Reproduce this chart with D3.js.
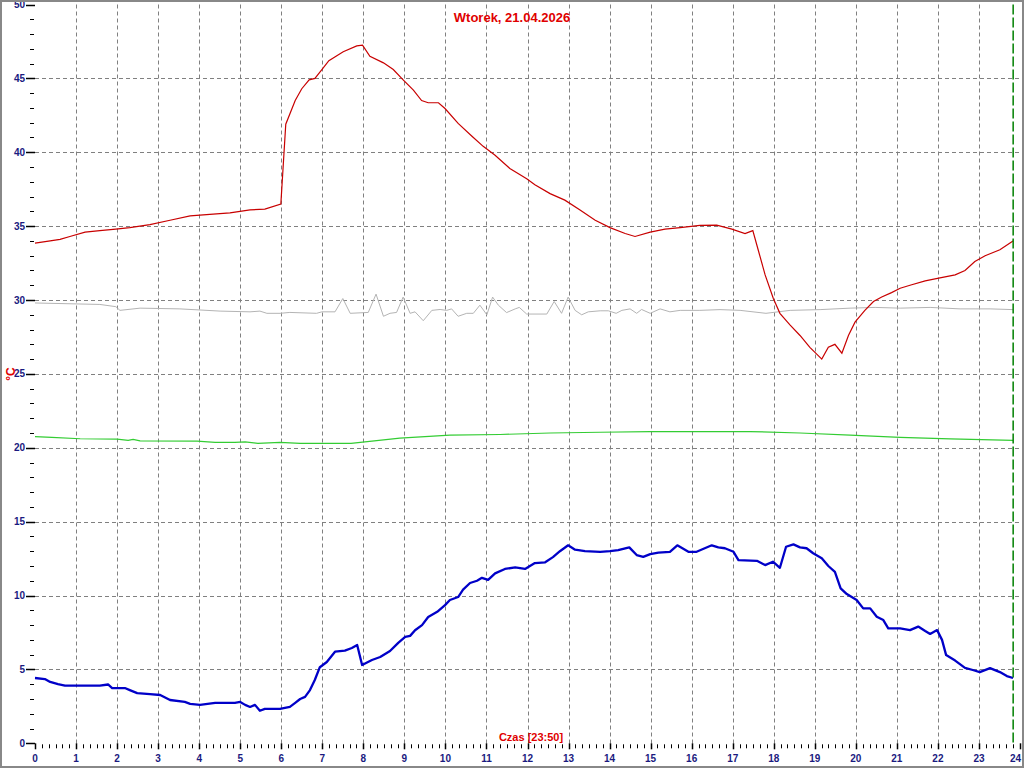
<!DOCTYPE html>
<html><head><meta charset="utf-8">
<script src="https://cdn.jsdelivr.net/npm/d3@7"></script>
<style>html,body{margin:0;padding:0;background:#fff;overflow:hidden}svg{display:block}</style>
</head><body>
<svg id="c" width="1024" height="768"></svg>
<script>
const title = "Wtorek, 21.04.2026";
const xTitle = "Czas [23:50]";
const yTitle = "°C";
const xTicks = d3.range(0, 25);
const yTicks = d3.range(0, 51, 5);
const nowHour = 23 + 50/60;

// [hour, value]
const red = [[0,33.85],[0.37,34.0],[0.61,34.1],[0.85,34.3],[1.22,34.6],[1.58,34.7],[1.97,34.8],[2.31,34.9],[2.80,35.1],[3.29,35.4],[3.78,35.7],[4.26,35.8],[4.75,35.9],[5.24,36.1],[5.60,36.15],[5.99,36.5],[6.11,41.9],[6.34,43.5],[6.50,44.3],[6.68,44.9],[6.82,45.0],[6.99,45.6],[7.16,46.2],[7.51,46.8],[7.84,47.2],[7.98,47.25],[8.16,46.5],[8.49,46.05],[8.73,45.6],[8.97,44.9],[9.22,44.2],[9.42,43.5],[9.58,43.35],[9.83,43.35],[9.99,42.96],[10.31,41.95],[10.64,41.1],[10.92,40.4],[11.21,39.8],[11.57,38.9],[11.98,38.2],[12.18,37.8],[12.55,37.2],[12.91,36.76],[13.28,36.1],[13.65,35.4],[14.01,34.9],[14.38,34.5],[14.62,34.3],[14.99,34.6],[15.35,34.8],[15.72,34.9],[16.20,35.05],[16.61,35.07],[16.98,34.8],[17.30,34.5],[17.49,34.7],[17.62,33.4],[17.79,31.7],[17.99,30.1],[18.15,29.1],[18.40,28.3],[18.64,27.6],[18.88,26.8],[19.17,26.0],[19.33,26.8],[19.49,27.0],[19.66,26.4],[19.82,27.6],[19.98,28.5],[20.22,29.3],[20.43,29.9],[20.63,30.2],[20.87,30.5],[21.08,30.8],[21.32,31.0],[21.69,31.3],[22.05,31.5],[22.42,31.7],[22.66,32.0],[22.90,32.6],[23.15,33.0],[23.51,33.4],[23.83,34.0]];

const gray = [[0,29.8],[1.58,29.7],[1.97,29.55],[2.07,29.3],[2.56,29.45],[3.53,29.4],[4.51,29.25],[5.24,29.2],[5.48,29.25],[5.65,29.1],[5.97,29.1],[6.21,29.16],[6.86,29.1],[6.99,29.2],[7.31,29.2],[7.50,30.1],[7.68,29.1],[8.12,29.16],[8.31,30.4],[8.49,28.9],[8.65,29.1],[8.81,29.16],[8.97,30.2],[9.14,29.1],[9.26,29.2],[9.46,28.6],[9.67,29.3],[9.87,29.36],[10.03,29.3],[10.15,29.4],[10.31,28.9],[10.52,29.1],[10.68,29.1],[10.84,29.65],[11.01,29.0],[11.15,30.2],[11.29,29.65],[11.49,29.15],[11.70,29.4],[11.80,29.5],[11.98,29.05],[12.47,29.05],[12.65,29.9],[12.83,29.1],[12.99,30.2],[13.16,29.3],[13.32,29.0],[13.48,29.2],[13.77,29.27],[13.97,29.27],[14.16,29.1],[14.30,29.3],[14.50,29.4],[14.66,29.1],[14.78,29.36],[14.99,29.1],[15.23,29.4],[15.47,29.2],[15.72,29.3],[16.20,29.3],[16.69,29.35],[17.18,29.3],[17.81,29.1],[18.40,29.3],[19.13,29.35],[19.86,29.45],[20.47,29.5],[21.08,29.45],[21.81,29.5],[22.54,29.4],[23.27,29.4],[23.83,29.35]];

const green = [[0,20.75],[0.41,20.7],[1.1,20.61],[2.0,20.59],[2.27,20.5],[2.39,20.57],[2.56,20.47],[3.95,20.45],[4.39,20.37],[4.87,20.37],[5.12,20.4],[5.43,20.3],[5.97,20.37],[6.46,20.3],[7.7,20.3],[8.89,20.65],[10.11,20.85],[11.33,20.9],[12.55,21.0],[13.77,21.05],[14.99,21.1],[16.2,21.1],[17.42,21.1],[18.64,21.0],[19.86,20.85],[21.08,20.7],[22.3,20.6],[23.83,20.5]];

const blue = [[0,4.42],[0.24,4.35],[0.37,4.15],[0.56,4.0],[0.73,3.9],[1.10,3.9],[1.58,3.9],[1.78,3.98],[1.88,3.74],[2.19,3.74],[2.31,3.6],[2.49,3.4],[2.80,3.33],[3.05,3.27],[3.29,2.93],[3.65,2.8],[3.78,2.67],[4.02,2.6],[4.39,2.73],[4.87,2.73],[5.00,2.8],[5.12,2.6],[5.24,2.46],[5.36,2.6],[5.48,2.2],[5.60,2.33],[5.97,2.33],[6.09,2.4],[6.21,2.47],[6.34,2.74],[6.46,3.0],[6.58,3.14],[6.70,3.6],[6.82,4.3],[6.94,5.15],[7.11,5.5],[7.31,6.2],[7.55,6.27],[7.72,6.45],[7.85,6.65],[7.97,5.3],[8.21,5.64],[8.41,5.84],[8.65,6.25],[8.85,6.8],[9.02,7.2],[9.14,7.27],[9.26,7.65],[9.43,8.0],[9.58,8.55],[9.80,8.9],[9.99,9.35],[10.11,9.7],[10.31,9.9],[10.43,10.4],[10.60,10.85],[10.77,11.0],[10.89,11.2],[11.04,11.06],[11.21,11.5],[11.45,11.8],[11.70,11.9],[11.94,11.8],[12.18,12.2],[12.43,12.25],[12.62,12.6],[12.79,13.0],[12.99,13.4],[13.16,13.1],[13.40,13.0],[13.77,12.96],[14.01,13.0],[14.21,13.08],[14.48,13.26],[14.66,12.74],[14.82,12.62],[14.99,12.8],[15.19,12.9],[15.47,12.96],[15.65,13.4],[15.92,12.96],[16.12,12.96],[16.49,13.4],[16.65,13.26],[16.81,13.2],[17.02,12.96],[17.14,12.4],[17.59,12.35],[17.79,12.06],[17.98,12.29],[18.15,11.88],[18.30,13.3],[18.48,13.46],[18.64,13.26],[18.80,13.2],[18.96,12.86],[19.17,12.52],[19.33,12.0],[19.49,11.6],[19.63,10.49],[19.78,10.1],[20.02,9.7],[20.18,9.13],[20.35,9.13],[20.51,8.57],[20.67,8.34],[20.79,7.78],[21.08,7.78],[21.32,7.66],[21.52,7.9],[21.69,7.6],[21.81,7.4],[21.98,7.66],[22.10,7.0],[22.20,5.97],[22.42,5.6],[22.66,5.1],[22.85,4.96],[23.02,4.82],[23.27,5.09],[23.51,4.82],[23.68,4.55],[23.83,4.42]];

const svg = d3.select("#c");
const x = d3.scaleLinear().domain([0, 24]).range([35, 1020]);
const y = d3.scaleLinear().domain([0, 50]).range([743.3, 4.5]);
const navy = "#1a1a80";
const font = "'Liberation Sans', Arial, sans-serif";

// grid
const g = svg.append("g");
g.selectAll(".vg").data(xTicks.filter(d => d > 0 && d < 24)).join("line")
  .attr("x1", d => Math.round(x(d)) + 0.5).attr("x2", d => Math.round(x(d)) + 0.5)
  .attr("y1", y(50)).attr("y2", y(0))
  .attr("stroke", "#808080").attr("stroke-dasharray", "4,3");
g.selectAll(".hg").data(yTicks.filter(d => d > 0 && d < 50)).join("line")
  .attr("x1", x(0)).attr("x2", x(24))
  .attr("y1", d => Math.round(y(d)) + 0.5).attr("y2", d => Math.round(y(d)) + 0.5)
  .attr("stroke", "#808080").attr("stroke-dasharray", "4,3");

// y axis ticks
const yAxis = svg.append("g").attr("transform", "translate(35,0)");
const yMinor = d3.range(0, 51, 1).filter(d => d % 5 !== 0);
yAxis.selectAll(".ym").data(yMinor).join("line")
  .attr("x1", -5).attr("x2", -1)
  .attr("y1", d => Math.round(y(d)) + 0.5).attr("y2", d => Math.round(y(d)) + 0.5)
  .attr("stroke", "#000");
yAxis.selectAll(".yM").data(yTicks).join("line")
  .attr("x1", -9).attr("x2", 0)
  .attr("y1", d => Math.round(y(d)) + 0.5).attr("y2", d => Math.round(y(d)) + 0.5)
  .attr("stroke", "#000").attr("stroke-width", 1.5);
yAxis.selectAll(".yl").data(yTicks).join("text")
  .attr("x", -10).attr("y", d => y(d) + 3.5)
  .attr("text-anchor", "end").attr("fill", navy)
  .attr("font-family", font).attr("font-size", 10).attr("font-weight", "bold")
  .text(d => d);

// x axis ticks
const xAxis = svg.append("g").attr("transform", `translate(0,${y(0)})`);
const xMinor = d3.range(0, 24 * 6 + 1).filter(d => d % 6 !== 0).map(d => d / 6);
xAxis.selectAll(".xm").data(xMinor).join("line")
  .attr("x1", d => Math.round(x(d)) + 0.5).attr("x2", d => Math.round(x(d)) + 0.5)
  .attr("y1", 1).attr("y2", 5).attr("stroke", "#000");
xAxis.selectAll(".xM").data(xTicks).join("line")
  .attr("x1", d => Math.round(x(d)) + 0.5).attr("x2", d => Math.round(x(d)) + 0.5)
  .attr("y1", 0).attr("y2", 6).attr("stroke", "#000").attr("stroke-width", 1.5);
xAxis.selectAll(".xl").data(xTicks).join("text")
  .attr("x", d => d === 24 ? x(d) + 1 : x(d)).attr("y", 19)
  .attr("text-anchor", d => d === 24 ? "end" : "middle").attr("fill", navy)
  .attr("font-family", font).attr("font-size", 10).attr("font-weight", "bold")
  .text(d => d);

// series
const line = d3.line().x(d => x(d[0])).y(d => y(d[1]));
svg.append("path").datum(gray).attr("d", line).attr("fill", "none").attr("stroke", "#b4b4b4").attr("stroke-width", 1);
svg.append("path").datum(green).attr("d", line).attr("fill", "none").attr("stroke", "#33cc33").attr("stroke-width", 1.2);
svg.append("path").datum(red).attr("d", line).attr("fill", "none").attr("stroke", "#c80000").attr("stroke-width", 1.2);
svg.append("path").datum(blue).attr("d", line).attr("fill", "none").attr("stroke", "#0000c8").attr("stroke-width", 2.3).attr("stroke-linejoin", "round");

// current time marker
svg.append("line")
  .attr("x1", x(nowHour)).attr("x2", x(nowHour))
  .attr("y1", y(50)).attr("y2", y(0))
  .attr("stroke", "#008000").attr("stroke-width", 1.5).attr("stroke-dasharray", "10,3");

// texts
svg.append("text").attr("x", 512).attr("y", 22).attr("text-anchor", "middle")
  .attr("fill", "#e00000").attr("font-family", font).attr("font-size", 13).attr("font-weight", "bold")
  .text(title);
svg.append("text").attr("x", 531).attr("y", 741).attr("text-anchor", "middle")
  .attr("fill", "#e00000").attr("font-family", font).attr("font-size", 11).attr("font-weight", "bold")
  .text(xTitle);
svg.append("text").attr("transform", "translate(15,374) rotate(-90)").attr("text-anchor", "middle")
  .attr("fill", "#e00000").attr("font-family", font).attr("font-size", 12).attr("font-weight", "bold")
  .text(yTitle);

// frame
svg.append("rect").attr("x", 1).attr("y", 1).attr("width", 1022).attr("height", 766)
  .attr("fill", "none").attr("stroke", "#888").attr("stroke-width", 2);
</script>
</body></html>
